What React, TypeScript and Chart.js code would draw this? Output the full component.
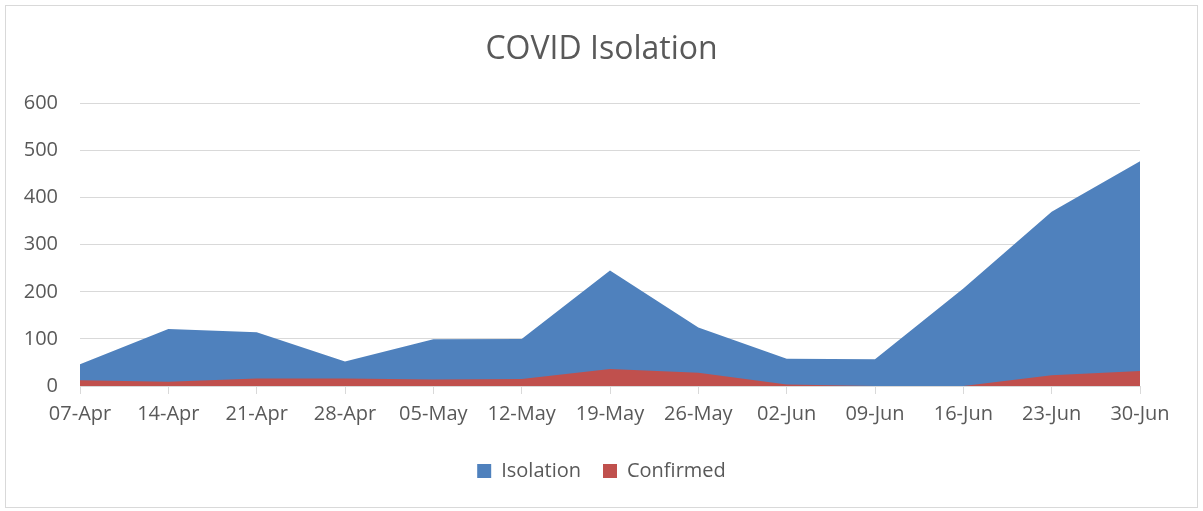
import React, { useEffect, useRef } from "react";
import { Chart, registerables } from "chart.js";

Chart.register(...registerables);

const categories = ["07-Apr", "14-Apr", "21-Apr", "28-Apr", "05-May", "12-May", "19-May", "26-May", "02-Jun", "09-Jun", "16-Jun", "23-Jun", "30-Jun"];
const isolation = [46, 121, 114, 52, 99, 100, 245, 124, 58, 57, 207, 370, 477];
const confirmed = [12, 9, 16, 16, 14, 15, 36, 28, 3, 0, 0, 23, 32];
const yMin = 0;
const yMax = 600;
const yStep = 100;

const FONT = "'Open Sans', 'Liberation Sans', sans-serif";
const TEXT = "#595959";
const GRID = "#d9d9d9";

const framePlugin = {
  id: "frame",
  beforeDraw(chart: any) {
    const ctx = chart.ctx;
    ctx.save();
    ctx.fillStyle = "#ffffff";
    ctx.fillRect(0, 0, chart.width, chart.height);
    ctx.strokeStyle = GRID;
    ctx.lineWidth = 1;
    ctx.strokeRect(5.5, 5.5, chart.width - 11, chart.height - 9);
    ctx.restore();
  },
};

export default function App() {
  const ref = useRef<HTMLCanvasElement | null>(null);

  useEffect(() => {
    document.body.style.margin = "0";
    const canvas = ref.current;
    if (!canvas) return;
    const chart = new Chart(canvas, {
      type: "line",
      data: {
        labels: categories,
        datasets: [
          {
            label: "Isolation",
            data: isolation,
            backgroundColor: "#4F81BD",
            borderColor: "#4F81BD",
            borderWidth: 0,
            pointRadius: 0,
            fill: "origin",
            tension: 0,
            order: 1,
          },
          {
            label: "Confirmed",
            data: confirmed,
            backgroundColor: "#C0504D",
            borderColor: "#C0504D",
            borderWidth: 0,
            pointRadius: 0,
            fill: "origin",
            tension: 0,
            order: 0,
          },
        ],
      },
      options: {
        responsive: false,
        animation: false,
        layout: { padding: { left: 0, right: 0, top: 0, bottom: 20 } },
        plugins: {
          title: {
            display: true,
            text: "COVID Isolation",
            color: TEXT,
            font: { family: FONT, size: 32, weight: "normal" },
            padding: { top: 31, bottom: 34 },
          },
          legend: {
            position: "bottom",
            labels: {
              color: TEXT,
              font: { family: FONT, size: 20 },
              boxWidth: 14,
              boxHeight: 14,
              padding: 22,
              sort: (a: any, b: any) => a.datasetIndex - b.datasetIndex,
            },
          },
          tooltip: { enabled: false },
        },
        scales: {
          x: {
            offset: false,
            grid: {
              drawOnChartArea: false,
              drawTicks: true,
              tickLength: 8,
              color: GRID,
            },
            border: { display: true, color: GRID, width: 1 },
            ticks: {
              color: TEXT,
              font: { family: FONT, size: 20 },
              padding: 8,
              maxRotation: 0,
              autoSkip: false,
            },
            afterFit(scale: any) {
              scale.height = 53;
            },
          },
          y: {
            min: yMin,
            max: yMax,
            grid: { color: GRID, drawTicks: false, lineWidth: 1 },
            border: { display: false },
            ticks: {
              stepSize: yStep,
              color: TEXT,
              font: { family: FONT, size: 20 },
              padding: 22,
            },
            afterFit(scale: any) {
              scale.width = 80;
            },
          },
          yRight: {
            position: "right",
            min: yMin,
            max: yMax,
            grid: { drawOnChartArea: false, drawTicks: false },
            border: { display: false },
            ticks: { display: false },
            afterFit(scale: any) {
              scale.width = 63;
            },
          },
        },
      },
      plugins: [framePlugin],
    });
    return () => chart.destroy();
  }, []);

  return (
    <div style={{ position: "absolute", left: 0, top: 0 }}>
      <canvas ref={ref} width={1203} height={511} style={{ display: "block" }} />
    </div>
  );
}
